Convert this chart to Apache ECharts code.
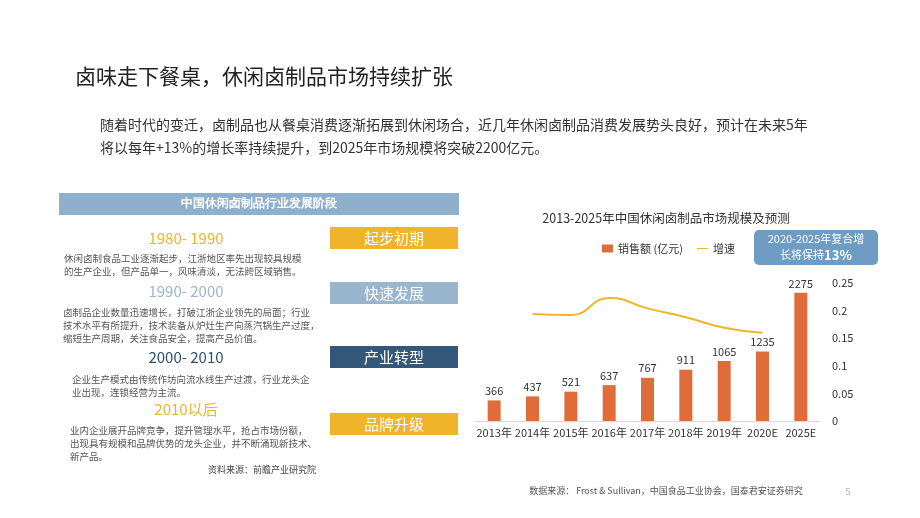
<!DOCTYPE html>
<html><head><meta charset="utf-8">
<script src="https://cdn.jsdelivr.net/npm/echarts@6/dist/echarts.min.js"></script>
<style>html,body{margin:0;padding:0;background:#fff}#c{width:920px;height:518px}</style>
</head><body><div id="c"></div>
<script>
const categories = ['2013年','2014年','2015年','2016年','2017年','2018年','2019年','2020E','2025E'];
const sales = [366,437,521,637,767,911,1065,1235,2275];
const growth = [null,0.194,0.192,0.223,0.204,0.188,0.169,0.160,null];
const rightTicks = ['0','0.05','0.1','0.15','0.2','0.25'];

const F = '"Noto Sans CJK SC","Noto Sans",sans-serif';
const SERIF = '"Noto Sans CJK SC",serif';
function txt(x,y,t,size,color,extra){return Object.assign({type:'text',style:Object.assign({x:x,y:y,text:t,font:size+'px '+F,fill:color},extra||{})},{});}
const g = [];
g.push(txt(75,66,'卤味走下餐桌，休闲卤制品市场持续扩张',21,'#222'));
g.push(txt(100,118,'随着时代的变迁，卤制品也从餐桌消费逐渐拓展到休闲场合，近几年休闲卤制品消费发展势头良好，预计在未来5年',14,'#333'));
g.push(txt(100,141,'将以每年+13%的增长率持续提升，到2025年市场规模将突破2200亿元。',14,'#333'));
g.push({type:'rect',shape:{x:59,y:193,width:400,height:22},style:{fill:'#8fb0cc'}});
g.push(txt(259,204,'中国休闲卤制品行业发展阶段',12,'#fff',{align:'center',verticalAlign:'middle',fontWeight:'bold',font:'bold 12px '+F}));
const stages = [
 {y:238,yr:'1980- 1990',yc:'#f0b42a',lab:'起步初期',lc:'#f0b42a',ly:238,lines:['休闲卤制食品工业逐渐起步，江浙地区率先出现较具规模','的生产企业，但产品单一，风味清淡，无法跨区域销售。'],tx:64,ty:258},
 {y:291,yr:'1990- 2000',yc:'#9ab6cf',lab:'快速发展',lc:'#9ab6cf',ly:293,lines:['卤制品企业数量迅速增长，打破江浙企业领先的局面；行业','技术水平有所提升，技术装备从炉灶生产向蒸汽锅生产过度，','缩短生产周期，关注食品安全，提高产品价值。'],tx:63,ty:312},
 {y:357,yr:'2000- 2010',yc:'#2e4f6e',lab:'产业转型',lc:'#33587a',ly:357,lines:['企业生产模式由传统作坊向流水线生产过渡，行业龙头企','业出现，连锁经营为主流。'],tx:72,ty:379},
 {y:409,yr:'2010以后',yc:'#f0b42a',lab:'品牌升级',lc:'#f0b42a',ly:424,lines:['业内企业展开品牌竞争，提升管理水平，抢占市场份额，','出现具有规模和品牌优势的龙头企业，并不断涌现新技术、','新产品。'],tx:70,ty:430}
];
stages.forEach(s=>{
  g.push(txt(186,s.y,s.yr,15,s.yc,{align:'center',verticalAlign:'middle'}));
  g.push({type:'rect',shape:{x:330,y:s.ly-11,width:128,height:22},style:{fill:s.lc}});
  g.push(txt(394,s.ly,s.lab,15,'#fff',{align:'center',verticalAlign:'middle',font:'15px '+SERIF}));
  s.lines.forEach((l,i)=>g.push(txt(s.tx,s.ty+i*13,l,9.5,'#555',{font:'9.5px '+SERIF,verticalAlign:'middle'})));
});
g.push(txt(262,470,'资料来源：前瞻产业研究院',9,'#444',{align:'center',verticalAlign:'middle'}));
g.push(txt(666,491,'数据来源： Frost & Sullivan，中国食品工业协会，国泰君安证券研究',9,'#555',{align:'center',verticalAlign:'middle'}));
g.push(txt(848,492,'5',9,'#aaa',{align:'center',verticalAlign:'middle'}));
g.push({type:'rect',shape:{x:754,y:230,width:124,height:35,r:5},style:{fill:'#6f9cc3'}});
g.push({type:'text',style:{x:816,y:247,text:'{a|2020-2025年复合增}\n{a|长将保持}{b|13%}',align:'center',verticalAlign:'middle',rich:{a:{font:'11px '+F,fill:'#fff',lineHeight:16},b:{font:'bold 13px '+F,fill:'#fff',lineHeight:16}}}});

const chart = echarts.init(document.getElementById('c'));
chart.setOption({
  animation:false,
  title:{text:'2013-2025年中国休闲卤制品市场规模及预测',left:661,top:207,textAlign:'center',textStyle:{fontSize:12.5,fontWeight:'normal',color:'#333',fontFamily:F}},
  legend:{left:597,top:238,itemWidth:11,itemHeight:8,itemGap:14,textStyle:{fontSize:11,color:'#333',fontFamily:F},
    data:[{name:'销售额 (亿元)',icon:'rect'},{name:'增速',icon:'path://M0,0H20V2H0Z'}]},
  grid:{left:475,right:100,top:283,bottom:97},
  xAxis:{type:'category',data:categories,axisTick:{show:false},axisLine:{lineStyle:{color:'#d9d9d9'}},
    axisLabel:{interval:0,fontSize:11,color:'#333',margin:6,fontFamily:F}},
  yAxis:[{type:'value',min:0,max:2450,show:false,splitLine:{show:false}},
    {type:'value',min:0,max:0.25,interval:0.05,position:'right',splitLine:{show:false},axisLine:{show:false},axisTick:{show:false},
     axisLabel:{fontSize:11,color:'#333',margin:12,fontFamily:F,formatter:v=>rightTicks[Math.round(v/0.05)]}}],
  series:[
    {name:'销售额 (亿元)',type:'bar',data:sales,barWidth:13,itemStyle:{color:'#df6d3b'},
     label:{show:true,position:'top',fontSize:11,color:'#333',fontFamily:F,distance:4}},
    {name:'增速',type:'line',yAxisIndex:1,data:growth,smooth:true,showSymbol:false,lineStyle:{color:'#f0b42a',width:2},itemStyle:{color:'#f0b42a'}}
  ],
  graphic:g
});
</script></body></html>
